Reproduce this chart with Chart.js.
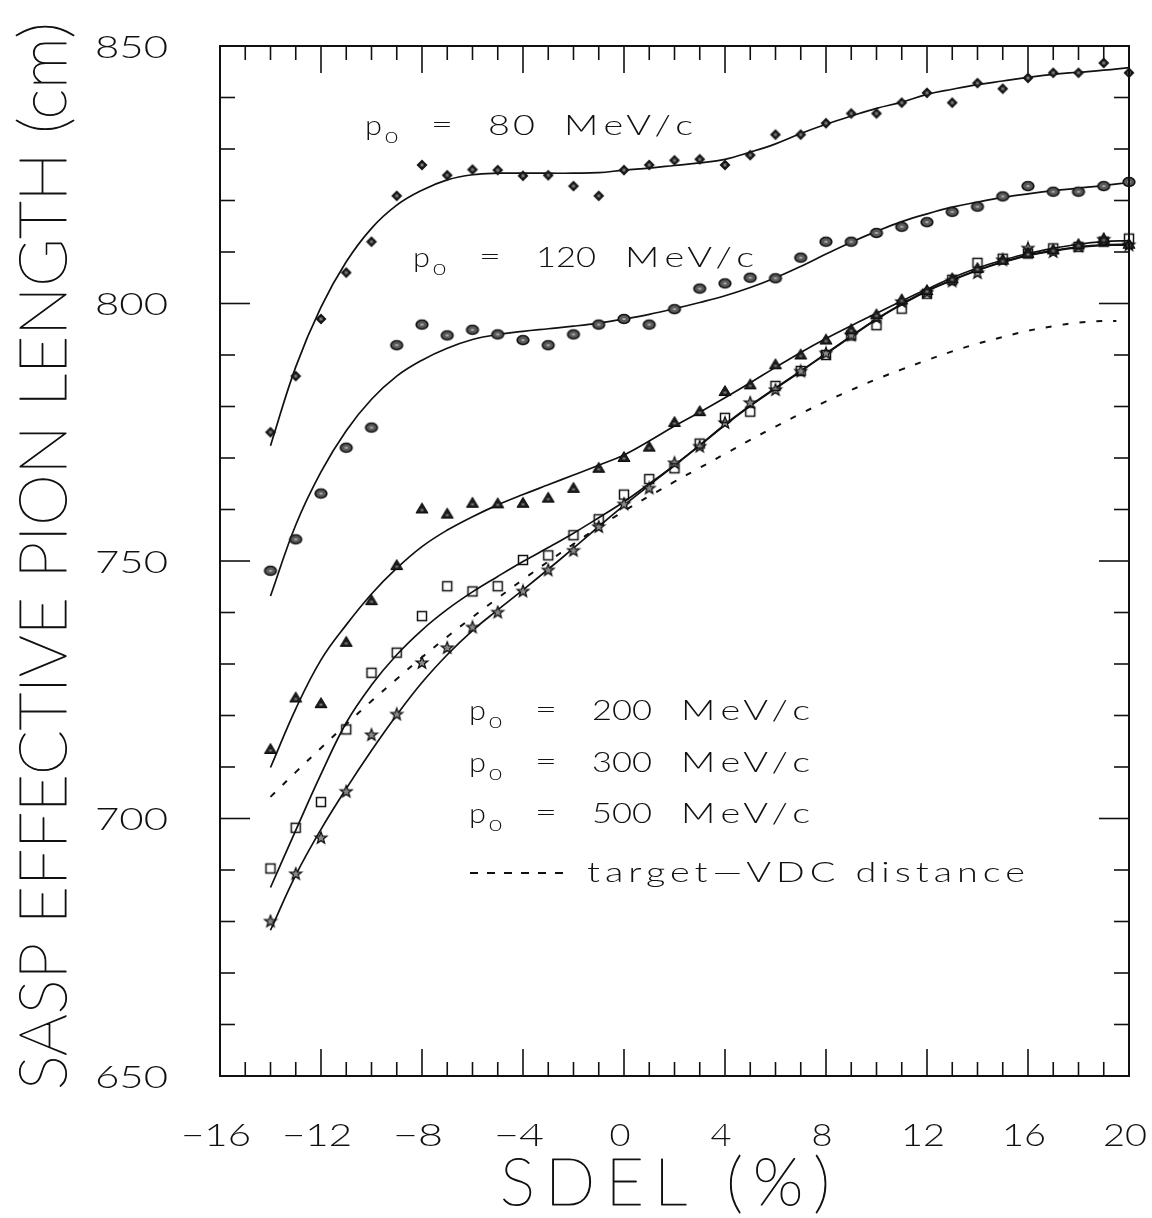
<!DOCTYPE html>
<html lang="en">
<head>
<meta charset="UTF-8">
<title>SASP effective pion length vs SDEL</title>
<script src="https://cdn.jsdelivr.net/npm/chart.js@4.4.1/dist/chart.umd.min.js"></script>
<style>
  html, body { margin: 0; padding: 0; background: #fff; }
  #wrap { width: 1152px; height: 1218px; position: relative; }
</style>
</head>
<body>
<div id="wrap"><canvas id="chart"></canvas></div>
<script>
// SDEL (%) of every measured point, same for all five momenta
const sdel = [-14, -13, -12, -11, -10, -9, -8, -7, -6, -5, -4, -3, -2, -1, 0, 1, 2, 3, 4,
              5, 6, 7, 8, 9, 10, 11, 12, 13, 14, 15, 16, 17, 18, 19, 20];

// measured effective pion length (cm)
const p80  = [775.0, 785.9, 797.0, 806.0, 812.0, 820.9, 826.9, 824.9, 826.0, 825.9, 824.8, 824.9,
              822.8, 820.9, 825.9, 826.9, 827.8, 828.0, 826.9, 828.8, 832.8, 832.8, 835.0, 836.9,
              836.9, 839.0, 840.9, 839.0, 842.8, 841.7, 843.8, 844.8, 844.8, 846.7, 844.8];
const p120 = [748.1, 754.2, 763.1, 772.0, 775.9, 791.9, 795.9, 793.8, 794.9, 794.0, 792.9, 791.9,
              794.0, 795.9, 797.0, 795.9, 798.9, 802.9, 803.9, 805.0, 804.9, 808.9, 812.0, 812.0,
              813.7, 814.9, 815.8, 817.8, 818.8, 820.8, 822.8, 821.7, 821.7, 822.8, 823.6];
const p200 = [713.5, 723.5, 722.4, 734.3, 742.4, 749.2, 760.2, 759.2, 761.3, 761.2, 761.3, 762.3,
              764.2, 768.1, 770.2, 772.2, 777.0, 779.1, 783.0, 784.3, 788.2, 790.1, 793.0, 795.0,
              797.9, 800.8, 802.6, 804.9, 806.9, 808.5, 809.8, 810.5, 811.5, 812.6, 811.6];
const p300 = [690.3, 698.2, 703.2, 717.3, 728.3, 732.2, 739.3, 745.1, 744.1, 745.1, 750.2, 751.1,
              755.0, 758.1, 762.9, 765.9, 768.0, 772.8, 777.8, 779.0, 784.0, 786.9, 790.0, 793.8,
              795.8, 799.0, 801.9, 804.6, 807.9, 808.7, 809.7, 810.7, 811.0, 812.0, 812.6];
const p500 = [680.0, 689.2, 696.2, 705.2, 716.2, 720.2, 730.2, 733.1, 737.1, 740.0, 744.1, 748.2,
              752.0, 756.6, 761.0, 764.1, 769.0, 772.2, 776.8, 780.7, 783.2, 786.8, 790.3, 793.8,
              797.2, 800.3, 802.1, 804.3, 805.9, 808.4, 810.7, 810.0, 811.1, 812.4, 811.3];

// fitted curves, sampled at the same SDEL values
const fit80  = [772.4, 787.7, 799.3, 808.1, 814.6, 819.1, 822.0, 824.0, 825.0, 825.3, 825.3, 825.3,
                825.3, 825.4, 825.9, 826.3, 826.8, 827.3, 828.0, 829.4, 831.0, 833.0, 834.8, 836.4,
                837.9, 839.1, 840.6, 841.6, 842.5, 843.2, 843.9, 844.5, 844.9, 845.3, 845.8];
const fit120 = [743.2, 757.0, 767.3, 775.3, 781.4, 785.9, 789.0, 791.3, 793.0, 794.0, 794.6, 795.1,
                795.6, 796.2, 797.0, 797.9, 799.0, 800.2, 801.5, 803.1, 805.0, 807.2, 809.6, 811.9,
                814.0, 815.9, 817.4, 818.7, 819.7, 820.6, 821.3, 821.9, 822.4, 822.9, 823.5];
const fit200 = [709.9, 721.3, 730.8, 737.6, 743.6, 748.6, 752.8, 756.0, 758.6, 760.9, 762.9, 764.8,
                766.7, 768.6, 770.6, 773.3, 776.2, 778.9, 781.7, 784.6, 787.6, 790.5, 793.2, 795.7,
                798.1, 800.5, 802.8, 805.0, 806.9, 808.4, 809.7, 810.7, 811.5, 812.0, 812.2];
const fit300 = [686.6, 697.7, 708.6, 718.6, 725.9, 731.8, 736.6, 740.6, 744.0, 747.0, 749.9, 752.6,
                755.4, 758.4, 761.5, 765.0, 768.6, 772.5, 776.5, 780.2, 783.6, 786.9, 790.3, 793.7,
                797.0, 799.9, 802.5, 804.6, 806.5, 808.1, 809.4, 810.3, 811.0, 811.4, 811.5];
const fit500 = [678.3, 689.0, 697.9, 705.8, 713.2, 720.1, 726.4, 731.8, 736.5, 740.5, 744.4, 748.4,
                752.5, 756.7, 760.8, 764.7, 768.6, 772.4, 776.4, 780.1, 783.5, 786.8, 790.2, 793.6,
                796.9, 799.8, 802.4, 804.5, 806.4, 808.0, 809.3, 810.2, 810.9, 811.3, 811.3];

// target-VDC distance (dashed curve)
const vdcSdel = [-14, -13, -12, -11, -10, -9, -8, -7, -6, -5, -4, -3, -2, -1, 0, 1, 2, 3, 4,
                 5, 6, 7, 8, 9, 10, 11, 12, 13, 14, 15, 16, 17, 18, 19, 19.5];
const vdc     = [704.2, 709.0, 713.7, 718.3, 722.8, 727.1, 731.3, 735.3, 739.1, 742.8, 746.4, 749.9,
                 753.3, 756.6, 759.7, 762.6, 765.4, 768.1, 770.8, 773.5, 776.1, 778.6, 781.0, 783.2,
                 785.3, 787.2, 789.0, 790.7, 792.2, 793.5, 794.7, 795.6, 796.3, 796.6, 796.6];

// axes
const xTicks = [-16, -12, -8, -4, 0, 4, 8, 12, 16, 20];
const xTickLabels = ['\u221216', '\u221212', '\u22128', '\u22124', '0', '4', '8', '12', '16', '20'];
const yTicks = [650, 700, 750, 800, 850];
const yTickLabels = ['650', '700', '750', '800', '850'];
const xMinorStep = 1;
const yMinorStep = 10;

// pick a thin face if one is installed, the plot lettering is single-stroke
const FONT = (() => {
  const g = document.createElement('canvas').getContext('2d');
  const probe = 'SASP EFFECTIVE PION 0123456789';
  const faces = [['"DejaVu Sans"', 200], ['Lato', 300], ['"Open Sans"', 300], ['Roboto', 300]];
  for (const [fam, w] of faces) {
    g.font = `${w} 100px ${fam}`;
    const a = g.measureText(probe).width;
    g.font = `400 100px ${fam}`;
    const b = g.measureText(probe).width;
    if (Math.abs(a - b) > 1) return { fam, w };
  }
  return { fam: '"DejaVu Sans"', w: 400 };
})();
// the big titles use the next lighter face, thickened by a thin outline
const TITLE_WEIGHT = Math.max(100, FONT.w - 100);

function marker(w, h, draw) {
  const c = document.createElement('canvas');
  c.width = w;
  c.height = h;
  draw(c.getContext('2d'), w / 2, h / 2);
  return c;
}

const diamond = marker(14, 14, (g, cx, cy) => {
  g.beginPath();
  g.moveTo(cx, cy - 5.5); g.lineTo(cx + 5.5, cy); g.lineTo(cx, cy + 5.5); g.lineTo(cx - 5.5, cy);
  g.closePath();
  g.fillStyle = '#161616';
  g.fill();
  g.fillStyle = '#7a7a7a';
  g.fillRect(cx - 1.5, cy - 1.5, 3, 3);
});
const blob = marker(16, 14, (g, cx, cy) => {
  g.beginPath();
  g.ellipse(cx, cy, 5.8, 4.5, 0, 0, Math.PI * 2);
  g.fillStyle = '#5a5a5a';
  g.fill();
  g.lineWidth = 1.7;
  g.strokeStyle = '#141414';
  g.stroke();
  g.fillStyle = '#a8a8a8';
  g.fillRect(cx - 1.5, cy - 1, 3, 2);
});
const triangle = marker(16, 14, (g, cx, cy) => {
  g.beginPath();
  g.moveTo(cx, cy - 5.5); g.lineTo(cx + 6, cy + 4.5); g.lineTo(cx - 6, cy + 4.5);
  g.closePath();
  g.fillStyle = '#1c1c1c';
  g.fill();
  g.lineWidth = 1;
  g.strokeStyle = '#0c0c0c';
  g.stroke();
  g.fillStyle = '#7c7c7c';
  g.fillRect(cx - 1.5, cy + 0.5, 3, 2);
});
const square = marker(14, 14, (g, cx, cy) => {
  g.lineWidth = 1.5;
  g.strokeStyle = '#111';
  g.strokeRect(cx - 4.5, cy - 4.5, 9, 9);
});
const star = marker(16, 16, (g, cx, cy) => {
  g.beginPath();
  for (let i = 0; i < 10; i++) {
    const r = i % 2 ? 2.6 : 6.2;
    const a = -Math.PI / 2 + i * Math.PI / 5;
    g.lineTo(cx + r * Math.cos(a), cy + r * Math.sin(a));
  }
  g.closePath();
  g.fillStyle = '#8a8a8a';
  g.fill();
  g.lineWidth = 1.3;
  g.strokeStyle = '#111';
  g.stroke();
});

const pts = (xs, ys) => xs.map((x, i) => ({ x, y: ys[i] }));

function points(ys, style) {
  return { data: pts(sdel, ys), pointStyle: style, pointRadius: 5, showLine: false, clip: false, order: 1 };
}
function curve(xs, ys, dash) {
  return {
    data: pts(xs, ys), showLine: true, pointRadius: 0, borderColor: '#111',
    borderWidth: dash ? 2 : 1.7, borderDash: dash || [], tension: 0.4,
    clip: false, order: 2
  };
}

// draws str from x over the given width: glyphs are widened up to
// maxStretch first, whatever is left goes into letter spacing
function fitText(ctx, str, x, base, width, size, opts = {}) {
  const maxStretch = opts.maxStretch ?? 1.4;
  ctx.save();
  ctx.font = `${opts.weight || FONT.w} ${size}px ${FONT.fam}`;
  ctx.letterSpacing = '0px';
  ctx.textAlign = 'left';
  const natural = ctx.measureText(str).width;
  const n = [...str].length;
  const s = Math.min(width / natural, maxStretch);
  const gap = n > 1 ? Math.max(0, (width / s - natural) / (n - 1)) : 0;
  ctx.translate(x, base);
  ctx.scale(s, 1);
  ctx.letterSpacing = gap + 'px';
  ctx.fillText(str, 0, 0);
  if (opts.outline) {
    ctx.lineWidth = opts.outline;
    ctx.lineJoin = 'round';
    ctx.strokeText(str, 0, 0);
  }
  ctx.restore();
}

// "p0 = N MeV/c" with the 0 as subscript
function momentumLabel(ctx, x, base, num) {
  fitText(ctx, 'p', x, base, 17, 27);
  fitText(ctx, '0', x + 20, base + 8, 13, 16);
  fitText(ctx, '=', x + 66, base - 1, 25, 27);
  const numW = num.length === 2 ? 47 : 60;
  fitText(ctx, num, x + 123, base, numW, 27);
  fitText(ctx, 'MeV/c', x + 123 + numW + 29, base, 129, 27);
}

const frame = {
  id: 'frame',
  afterDraw(chart) {
    const { ctx, chartArea: a, scales: { x, y } } = chart;
    ctx.save();
    ctx.strokeStyle = '#111';
    ctx.fillStyle = '#111';

    const seg = (x1, y1, x2, y2) => { ctx.beginPath(); ctx.moveTo(x1, y1); ctx.lineTo(x2, y2); ctx.stroke(); };

    // inward ticks on all four sides
    ctx.lineWidth = 1.6;
    for (let v = x.min; v <= x.max; v += xMinorStep) {
      const px = x.getPixelForValue(v);
      const len = xTicks.includes(v) ? 27 : 14;
      seg(px, a.bottom, px, a.bottom - len);
      seg(px, a.top, px, a.top + len);
    }
    for (let v = y.min; v <= y.max; v += yMinorStep) {
      const py = y.getPixelForValue(v);
      const len = yTicks.includes(v) ? 30 : 15;
      seg(a.left, py, a.left + len, py);
      seg(a.right, py, a.right - len, py);
    }
    ctx.lineWidth = 2;
    ctx.strokeRect(a.left, a.top, a.right - a.left, a.bottom - a.top);

    // tick labels
    yTicks.forEach((v, i) => fitText(ctx, yTickLabels[i], 95, y.getPixelForValue(v) + 11.5, 73, 32));
    xTicks.forEach((v, i) => {
      const s = xTickLabels[i];
      const w = s.length === 3 ? 70 : s.length === 2 ? (s[0] === '\u2212' ? 50 : 44) : 21;
      fitText(ctx, s, x.getPixelForValue(v) - 4 - w / 2, 1146, w, 32);
    });

    // axis titles
    const titleOpts = { weight: TITLE_WEIGHT, maxStretch: 1, outline: 1.1 };
    fitText(ctx, 'SDEL (%)', 500, 1205, 330, 66, titleOpts);
    ctx.save();
    ctx.translate(66, 1090);
    ctx.rotate(-Math.PI / 2);
    fitText(ctx, 'SASP EFFECTIVE PION LENGTH (cm)', 0, 0, 1068, 66, titleOpts);
    ctx.restore();

    // curve labels
    momentumLabel(ctx, 365, 135, '80');
    momentumLabel(ctx, 413, 267, '120');
    momentumLabel(ctx, 469, 720, '200');
    momentumLabel(ctx, 469, 772, '300');
    momentumLabel(ctx, 469, 823, '500');

    ctx.lineWidth = 2;
    ctx.setLineDash([8, 9]);
    seg(470, 873, 571, 873);
    ctx.setLineDash([]);
    fitText(ctx, 'target\u2014VDC distance', 587, 882, 438, 27);
    ctx.restore();
  }
};

new Chart(document.getElementById('chart'), {
  type: 'scatter',
  data: {
    datasets: [
      points(p80, diamond),
      points(p120, blob),
      points(p200, triangle),
      points(p300, square),
      points(p500, star),
      curve(sdel, fit80),
      curve(sdel, fit120),
      curve(sdel, fit200),
      curve(sdel, fit300),
      curve(sdel, fit500),
      curve(vdcSdel, vdc, [6, 11])
    ]
  },
  options: {
    responsive: true,
    maintainAspectRatio: false,
    animation: false,
    layout: { padding: { left: 220, right: 23, top: 46, bottom: 142 } },
    plugins: { legend: { display: false }, tooltip: { enabled: false } },
    scales: {
      x: { type: 'linear', min: -16, max: 20, display: false },
      y: { type: 'linear', min: 650, max: 850, display: false }
    }
  },
  plugins: [frame]
});
</script>
</body>
</html>
